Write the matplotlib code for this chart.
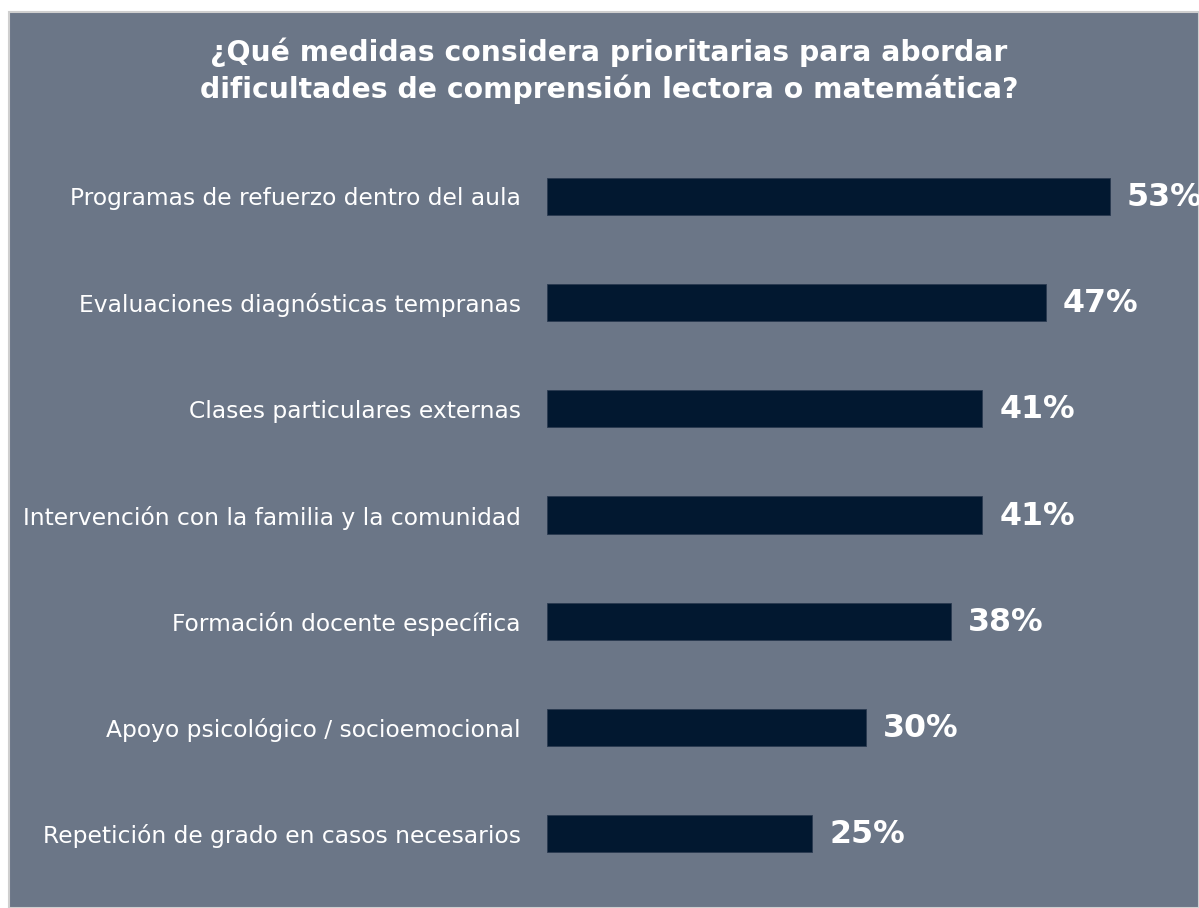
import matplotlib.pyplot as plt
from matplotlib.patches import Rectangle

categories = [
    'Programas de refuerzo dentro del aula',
    'Evaluaciones diagnósticas tempranas',
    'Clases particulares externas',
    'Intervención con la familia y la comunidad',
    'Formación docente específica',
    'Apoyo psicológico / socioemocional',
    'Repetición de grado en casos necesarios',
]
values = [53, 47, 41, 41, 38, 30, 25]
title = '¿Qué medidas considera prioritarias para abordar\ndificultades de comprensión lectora o matemática?'

bg = '#6b7687'
bar_color = '#021830'

W, H = 1199, 908
fig = plt.figure(figsize=(W / 100, H / 100), dpi=100, facecolor='white')

# panel with thin light border on top/left
panel = Rectangle((9 / W, 0), 1 - 9 / W, 1 - 12 / H, transform=fig.transFigure,
                  facecolor=bg, edgecolor='#cfcfcf', linewidth=1.5, zorder=0)
fig.patches.append(panel)

ax = fig.add_axes([547 / W, 21 / H, 1 - 547 / W, 744 / H])
ax.set_zorder(2)
ax.set_facecolor('none')
y = range(len(categories))
ax.barh(y, values, height=0.35, color=bar_color, edgecolor='#2a3a50', linewidth=0.6)
ax.set_xlim(0, 61.4)
ax.set_ylim(len(categories) - 0.5, -0.5)

# the top label runs off the right edge, as in the original
for i, v in enumerate(values):
    ax.text(v + 1.6, i + 0.01, f'{v}%', va='center', ha='left', color='white',
            fontsize=22.8, fontweight='bold', clip_on=False)

ax.set_yticks(list(y))
ax.set_yticklabels(categories, fontsize=16.8, color='white')
ax.tick_params(axis='y', length=0, pad=19)
ax.set_xticks([])
for s in ax.spines.values():
    s.set_visible(False)

fig.text(609 / W, 1 - 71 / H, title, ha='center', va='center', color='white',
         fontsize=20.3, fontweight='bold', linespacing=1.32, zorder=3)

fig.savefig('out.png', dpi=100, facecolor='white')
